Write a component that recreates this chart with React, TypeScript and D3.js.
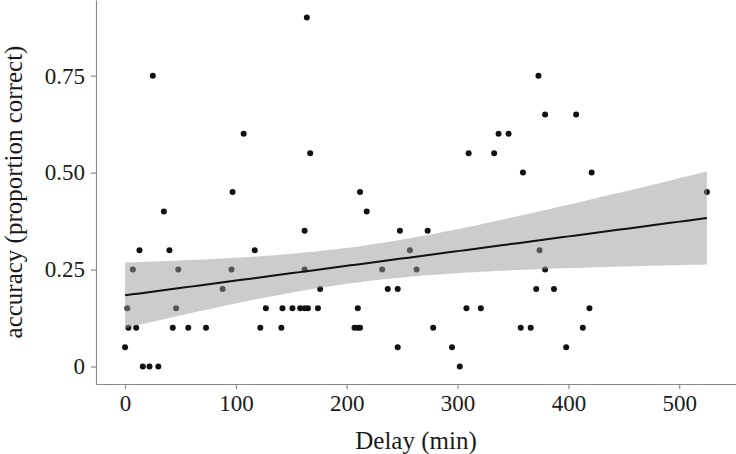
import { useEffect, useRef } from 'react';
import * as d3 from 'd3';

const COLORS = {
    axis: '#8a8a8a',
    text: '#1a1a1a',
    point: '#111111',
    band: '#999999',
    line: '#111111',
};

// delay in minutes / accuracy (proportion correct)
const delayMin = [
    164, 25, 373, 379, 407, 107, 337, 346, 167, 310, 333, 359, 421, 97, 212, 525,
    35, 218, 162, 248, 273, 13, 40, 117, 257, 374, 7, 48, 96, 162, 232, 263, 379,
    88, 176, 237, 246, 371, 387,
    2, 46, 127, 142, 151, 158, 162, 165, 174, 210, 308, 321, 419,
    3, 10, 43, 57, 73, 122, 141, 207, 210, 212, 278, 357, 366, 413,
    0, 246, 295, 398,
    16, 22, 30, 302,
];
const accuracy = [
    0.9, 0.75, 0.75, 0.65, 0.65, 0.6, 0.6, 0.6, 0.55, 0.55, 0.55, 0.5, 0.5, 0.45, 0.45, 0.45,
    0.4, 0.4, 0.35, 0.35, 0.35, 0.3, 0.3, 0.3, 0.3, 0.3, 0.25, 0.25, 0.25, 0.25, 0.25, 0.25, 0.25,
    0.2, 0.2, 0.2, 0.2, 0.2, 0.2,
    0.15, 0.15, 0.15, 0.15, 0.15, 0.15, 0.15, 0.15, 0.15, 0.15, 0.15, 0.15, 0.15,
    0.1, 0.1, 0.1, 0.1, 0.1, 0.1, 0.1, 0.1, 0.1, 0.1, 0.1, 0.1, 0.1, 0.1,
    0.05, 0.05, 0.05, 0.05,
    0, 0, 0, 0,
];

const xTicks = [0, 100, 200, 300, 400, 500];
const yTicks = [0, 0.25, 0.5, 0.75];
const yTickLabels = ['0', '0.25', '0.50', '0.75'];

const W = 736;
const H = 454;

export default function App() {
    const svgRef = useRef<SVGSVGElement>(null);

    useEffect(() => {
        if (!svgRef.current) return;
        const svg = d3.select(svgRef.current);
        svg.selectAll('*').remove();

        const margin = { top: 0, right: 0, bottom: 70, left: 96 };
        const w = W - margin.left - margin.right;
        const h = H - margin.top - margin.bottom;
        const g = svg.append('g').attr('transform', `translate(${margin.left},${margin.top})`);

        const pts = delayMin.map((d, i) => ({ x: d, y: accuracy[i] }));

        // ggplot style 5% expansion
        const xExt = d3.extent(delayMin) as [number, number];
        const yExt = d3.extent(accuracy) as [number, number];
        const xPad = (xExt[1] - xExt[0]) * 0.05;
        const yPad = (yExt[1] - yExt[0]) * 0.05;
        const x = d3.scaleLinear().domain([xExt[0] - xPad, xExt[1] + xPad]).range([0, w]);
        const y = d3.scaleLinear().domain([yExt[0] - yPad, yExt[1] + yPad]).range([h, 0]);

        // OLS fit + 95% confidence band
        const n = pts.length;
        const mx = d3.mean(delayMin) as number;
        const my = d3.mean(accuracy) as number;
        const sxx = d3.sum(delayMin, d => (d - mx) ** 2);
        const sxy = d3.sum(pts, p => (p.x - mx) * (p.y - my));
        const slope = sxy / sxx;
        const icept = my - slope * mx;
        const rss = d3.sum(pts, p => (p.y - (icept + slope * p.x)) ** 2);
        const s = Math.sqrt(rss / (n - 2));
        const tq = 1.993;
        const fit = d3.range(0, 81).map(i => {
            const xv = xExt[0] + (i / 80) * (xExt[1] - xExt[0]);
            const yv = icept + slope * xv;
            const se = s * Math.sqrt(1 / n + (xv - mx) ** 2 / sxx);
            return { x: xv, y: yv, lo: yv - tq * se, hi: yv + tq * se };
        });

        g.selectAll('circle.pt')
            .data(pts)
            .join('circle')
            .attr('class', 'pt')
            .attr('cx', d => x(d.x))
            .attr('cy', d => y(d.y))
            .attr('r', 3)
            .attr('fill', COLORS.point);

        g.append('path')
            .datum(fit)
            .attr('d', d3.area<any>().x(d => x(d.x)).y0(d => y(d.lo)).y1(d => y(d.hi)))
            .attr('fill', COLORS.band)
            .attr('opacity', 0.5);

        g.append('path')
            .datum(fit)
            .attr('d', d3.line<any>().x(d => x(d.x)).y(d => y(d.y)))
            .attr('fill', 'none')
            .attr('stroke', COLORS.line)
            .attr('stroke-width', 2);

        // Axes
        const font = "'Liberation Serif', 'Times New Roman', serif";

        const xAxis = g.append('g').attr('transform', `translate(0,${h})`)
            .call(d3.axisBottom(x).tickValues(xTicks).tickSize(5).tickSizeOuter(0).tickPadding(6));
        xAxis.select('.domain').attr('stroke', COLORS.axis).attr('stroke-width', 1.2);
        xAxis.selectAll('line').attr('stroke', COLORS.axis).attr('stroke-width', 1.2);
        xAxis.selectAll('text')
            .style('fill', COLORS.text).style('font-size', '23px').style('font-family', font);

        const yAxis = g.append('g')
            .call(d3.axisLeft(y).tickValues(yTicks).tickSize(5).tickSizeOuter(0).tickPadding(6)
                .tickFormat((_d, i) => yTickLabels[i]));
        yAxis.select('.domain').attr('stroke', COLORS.axis).attr('stroke-width', 1.2);
        yAxis.selectAll('line').attr('stroke', COLORS.axis).attr('stroke-width', 1.2);
        yAxis.selectAll('text')
            .style('fill', COLORS.text).style('font-size', '23px').style('font-family', font);

        g.append('text')
            .attr('x', w / 2).attr('y', h + 65)
            .attr('text-anchor', 'middle')
            .style('fill', COLORS.text).style('font-size', '25px').style('font-family', font)
            .text('Delay (min)');

        g.append('text')
            .attr('transform', 'rotate(-90)')
            .attr('x', -h / 2).attr('y', -74)
            .attr('text-anchor', 'middle')
            .style('fill', COLORS.text).style('font-size', '25px').style('font-family', font)
            .text('accuracy (proportion correct)');
    }, []);

    return (
        <svg ref={svgRef} width={W} height={H}
            style={{ position: 'absolute', left: 0, top: 0, background: '#fff' }} />
    );
}
